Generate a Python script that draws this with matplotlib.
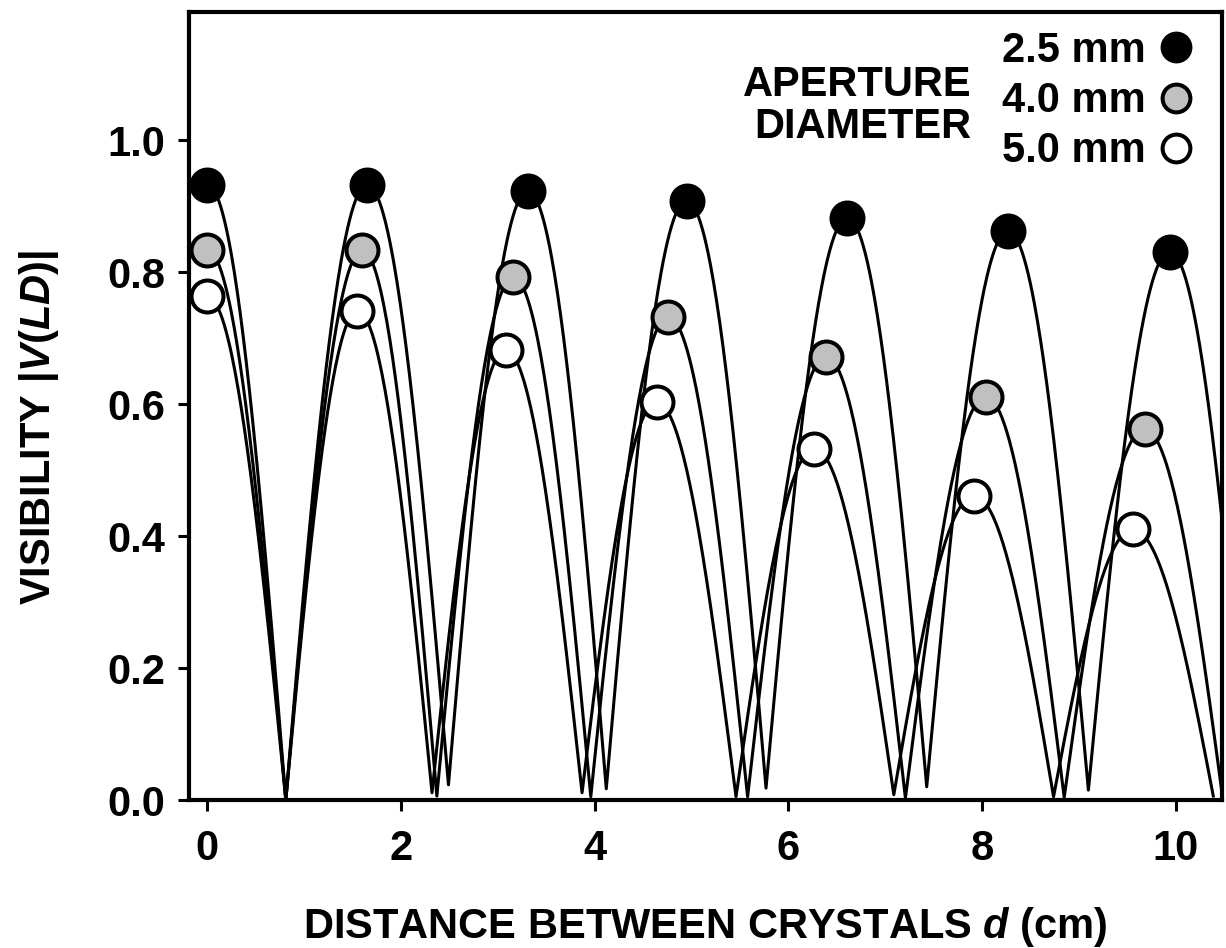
import numpy as np
import matplotlib
matplotlib.use("Agg")
import matplotlib.pyplot as plt

plt.rcParams['font.family'] = ['Liberation Sans', 'DejaVu Sans']
plt.rcParams['font.weight'] = 'bold'
plt.rcParams['mathtext.fontset'] = 'custom'
plt.rcParams['mathtext.rm'] = 'Liberation Sans:bold'
plt.rcParams['mathtext.it'] = 'Liberation Sans:italic:bold'
plt.rcParams['mathtext.bf'] = 'Liberation Sans:bold'

# --- data ---
# peaks (measured points) for each aperture diameter
d_25 = [0.0, 1.65, 3.31, 4.95, 6.61, 8.27, 9.94]
v_25 = [0.932, 0.932, 0.923, 0.908, 0.882, 0.862, 0.831]
d_40 = [0.0, 1.60, 3.16, 4.76, 6.39, 8.04, 9.68]
v_40 = [0.833, 0.833, 0.792, 0.732, 0.672, 0.611, 0.562]
d_50 = [0.0, 1.55, 3.08, 4.64, 6.27, 7.92, 9.56]
v_50 = [0.763, 0.741, 0.682, 0.603, 0.532, 0.461, 0.410]

# minima of the theory curves (position, depth)
z_25 = [0.81, 2.49, 4.12, 5.77, 7.43, 9.10, 10.76]
m_25 = [0.0, 0.023, 0.017, 0.018, 0.020, 0.015, 0.0]
z_40 = [0.81, 2.37, 3.96, 5.58, 7.21, 8.85, 10.49]
m_40 = [0.0, 0.006, 0.005, 0.005, 0.003, 0.004, 0.0]
z_50 = [0.81, 2.32, 3.87, 5.46, 7.09, 8.74, 10.39]
m_50 = [0.0, 0.011, 0.011, 0.005, 0.008, 0.005, 0.006]

labels = ["2.5 mm", "4.0 mm", "5.0 mm"]
faces = ["black", "#c0c0c0", "white"]


def arch_curve(px, pv, zx, zv, n=80):
    # cosine-shaped arches joining each peak to the next minimum
    knots = []
    for i in range(len(px)):
        knots.append((px[i], pv[i], True))
        knots.append((zx[i], zv[i], False))
    xs, ys = [], []
    for (a, ha, a_peak), (b, hb, _) in zip(knots[:-1], knots[1:]):
        t = np.linspace(0, 1, n)
        if a_peak:
            y = hb + (ha - hb) * np.cos(np.pi / 2 * t)
        else:
            y = ha + (hb - ha) * np.sin(np.pi / 2 * t)
        xs.append(a + (b - a) * t)
        ys.append(y)
    return np.concatenate(xs), np.concatenate(ys)


fig = plt.figure(figsize=(12.26, 9.48), dpi=100)
ax = fig.add_axes([189 / 1226, 1 - 800 / 948, (1222 - 189) / 1226, (800 - 12) / 948])

series = [(d_25, v_25, z_25, m_25), (d_40, v_40, z_40, m_40), (d_50, v_50, z_50, m_50)]
for (px, pv, zx, zv) in series:
    cx, cy = arch_curve(px, pv, zx, zv)
    ax.plot(cx, cy, color='black', lw=2.2, zorder=2)

for (px, pv, zx, zv), fc in zip(series, faces):
    ax.plot(px, pv, 'o', ms=23, mfc=fc, mec='black', mew=2.9, ls='none',
            zorder=3, clip_on=False)

ax.set_xlim(-0.19, 10.48)
ax.set_ylim(0, 1.194)
ax.set_xticks([0, 2, 4, 6, 8, 10])
ax.set_yticks([0.0, 0.2, 0.4, 0.6, 0.8, 1.0])
ax.set_yticklabels(["0.0", "0.2", "0.4", "0.6", "0.8", "1.0"])
for sp in ax.spines.values():
    sp.set_linewidth(3)
ax.tick_params(axis='both', direction='out', length=8, width=2.2, labelsize=30)
ax.tick_params(axis='x', pad=13)
ax.tick_params(axis='y', pad=9)

# legend block
leg_y = [1.141, 1.064, 0.988]
leg_text_y = [1.118, 1.042, 0.967]
for lab, fc, ym, yt in zip(labels, faces, leg_y, leg_text_y):
    ax.text(9.69, yt, lab, ha='right', va='baseline', fontsize=30, fontweight='bold')
    ax.plot([10.01], [ym], 'o', ms=20, mfc=fc, mec='black', mew=2.9, zorder=3)
ax.text(7.89, 1.067, "APERTURE", ha='right', va='baseline', fontsize=30, fontweight='bold')
ax.text(7.89, 1.003, "DIAMETER", ha='right', va='baseline', fontsize=30, fontweight='bold')

fig.text(705 / 1226, 1 - 938 / 948, r"DISTANCE BETWEEN CRYSTALS $d$ (cm)",
         ha='center', va='baseline', fontsize=30, fontweight='bold')
fig.text(50 / 1226, 1 - 427 / 948, r"VISIBILITY $|V(LD)|$", rotation=90,
         rotation_mode='anchor', ha='center', va='baseline', fontsize=30, fontweight='bold')

fig.savefig("out.png", dpi=100)
